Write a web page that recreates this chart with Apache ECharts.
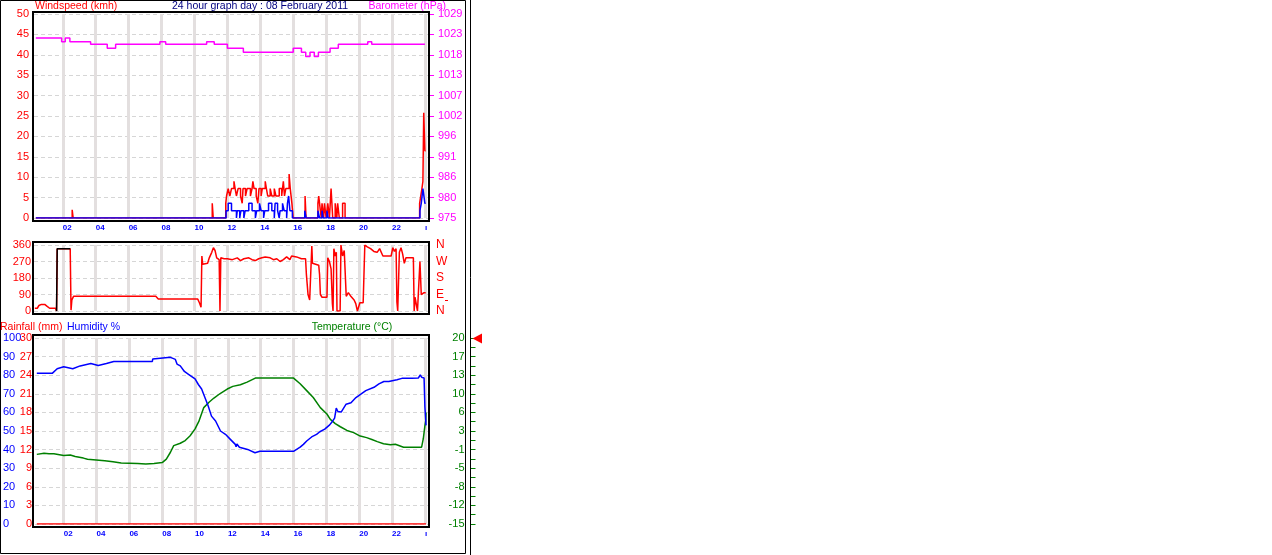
<!DOCTYPE html>
<html><head><meta charset="utf-8">
<script src="https://cdn.jsdelivr.net/npm/echarts@6/dist/echarts.min.js"></script>
<style>html,body{margin:0;padding:0;background:#fff}#c{width:1272px;height:555px}</style>
</head><body><div id="c"></div>
<script>
// ---------- axis ticks / labels ----------
const hourTicks = [2,4,6,8,10,12,14,16,18,20,22,24];
const hourLabels = ['02','04','06','08','10','12','14','16','18','20','22','ı'];
const baroTickLabels = ['975','980','986','991','996','1002','1007','1013','1018','1023','1029'];
const baroRange = [975.4, 1029.2];
const compassTicks = [0,90,180,270,360];
const compassLabels = ['N','E','S','W','N'];
const tempTickLabels = ['-15','-12','-8','-5','-1','3','6','10','13','17','20'];
const tempRange = [-15, 20];

// ---------- wind speed (km/h) ----------
const gustTime = [0.36,2.57,2.63,11.08,11.14,11.9,11.95,12.05,12.15,12.25,12.4,12.47,12.55,12.65,12.8,12.9,12.95,13.1,13.2,13.4,13.5,13.55,13.62,13.75,13.85,13.92,14.05,14.12,14.3,14.37,14.45,14.6,14.7,14.85,14.95,15.15,15.3,15.4,15.47,15.55,15.75,15.82,15.92,16.0,16.72,16.78,17.5,17.55,17.6,17.7,17.75,17.85,17.9,18.0,18.1,18.2,18.3,18.35,18.4,18.55,18.65,18.7,18.8,19.0,19.15,23.68,23.75,23.82,23.88,23.93,24.0,24.05];
const gustKmh  = [0,2,0,3.6,0,3.6,5.4,7.2,5.4,7.2,9.0,7.2,5.4,7.2,5.4,3.6,7.2,5.4,7.2,5.4,7.2,9.0,7.2,5.4,3.6,7.2,5.4,7.2,9.0,7.2,5.4,7.2,5.4,7.2,5.4,7.2,5.4,9.0,5.4,7.2,10.8,7.2,3.6,0,5.4,0,3.6,5.4,3.6,0,3.6,0,3.6,0,3.6,0,7.2,3.6,0,3.6,0,3.6,0,3.6,0,3.6,5.4,7.2,9.0,25.8,16.5,16.5];
const avgTime = [0.36,11.92,12.05,12.25,12.55,12.6,12.75,12.82,13.0,13.08,13.3,13.5,13.7,13.78,13.95,14.05,14.2,14.27,14.5,14.7,14.85,14.9,15.05,15.15,15.2,15.35,15.45,15.6,15.65,15.72,15.8,15.95,16.7,16.78,17.5,17.6,17.75,17.82,18.05,18.12,23.7,23.78,23.88,24.0,24.05];
const avgKmh  = [0,1.8,3.6,1.8,0,1.8,0,1.8,0,1.8,3.6,1.8,0,1.8,3.6,1.8,0,1.8,3.6,1.8,0,3.6,1.8,0,1.8,3.6,1.8,0,3.6,5.4,1.8,0,1.8,0,1.8,0,1.8,0,1.8,0,1.8,3.6,7.2,3.6,3.6];

// ---------- barometer (hPa) ----------
const baroTime = [0.36,1.93,2.15,2.43,3.69,4.7,5.21,7.9,8.25,10.74,11.2,12.0,12.97,16.0,16.5,16.76,17.02,17.28,17.53,18.24,18.74,20.53,20.77,24.0];
const baroHpa  = [1022.9,1021.9,1022.9,1021.9,1021.2,1020.15,1021.2,1021.9,1021.2,1021.9,1021.2,1020.15,1019.1,1020.15,1019.1,1018.0,1019.1,1018.0,1019.1,1020.15,1021.2,1021.9,1021.2,1021.2];

// ---------- wind direction (deg) ----------
const dirTime = [0.3,0.45,0.55,0.7,0.9,1.05,1.2,1.55,1.62,1.66,2.45,2.5,2.55,2.65,7.65,7.8,10.2,10.3,10.4,10.45,10.5,10.8,10.9,11.05,11.15,11.25,11.35,11.5,11.55,11.6,11.8,12.0,12.3,12.6,12.8,13.0,13.3,13.5,13.7,13.9,14.1,14.3,14.6,14.8,15.0,15.2,15.3,15.4,15.6,15.8,15.9,16.2,16.5,16.75,16.8,16.9,17.0,17.1,17.13,17.17,17.55,17.6,17.65,17.75,18.05,18.1,18.2,18.3,18.38,18.42,18.47,18.55,18.62,18.66,18.85,18.9,19.0,19.1,19.22,19.35,19.5,19.7,19.8,19.9,20.05,20.25,20.35,20.5,20.7,20.9,21.1,21.25,21.45,21.95,22.05,22.15,22.25,22.3,22.35,22.45,22.55,22.65,22.75,22.85,23.3,23.35,23.4,23.5,23.55,23.65,23.7,23.78,23.85,23.95,24.05];
const dirDeg  = [15,15,30,36,36,25,15,15,0,340,340,5,60,80,80,65,65,45,20,300,255,260,290,320,345,330,290,280,0,290,285,285,280,290,275,285,290,280,275,285,290,295,290,280,285,270,260,280,295,280,300,295,285,285,200,90,60,60,355,260,250,200,90,75,75,290,270,230,40,0,340,300,320,0,0,360,300,330,80,100,80,60,40,0,45,45,360,350,340,325,320,340,300,300,345,325,340,50,0,320,345,310,260,290,290,0,75,75,0,0,270,90,80,100,100];
const dirAvgTime = [1.62,1.66,2.45];
const dirAvgDeg  = [0,340,340];

// ---------- humidity (%), temperature (°C), rainfall (mm) ----------
const humTime = [0.36,1.3,1.32,1.6,1.65,2.0,2.55,2.6,3.0,3.65,4.1,4.6,5.05,7.4,7.42,8.5,8.8,8.9,9.1,9.35,9.6,10.0,10.2,10.4,10.6,10.8,11.0,11.25,11.55,11.85,12.15,12.45,12.5,12.55,12.7,13.2,13.65,13.95,16.0,16.1,16.4,16.6,16.8,16.9,17.1,17.4,17.6,17.9,18.2,18.35,18.5,18.6,18.7,18.9,19.05,19.2,19.5,19.8,20.1,20.4,20.9,21.2,21.5,21.8,21.9,22.3,22.6,23.2,23.6,23.72,23.8,23.95,24.0,24.07];
const humPct  = [81,81,82,83.5,82.5,84.5,83.5,84.5,85,86.3,85.2,86.3,87.4,87.4,88.7,89.6,88.5,86,85,82,80.5,78,75,72.6,68,63.4,58,55.4,50,48.2,45.5,42.8,41.5,43,41.3,40.1,38.3,39.1,39.1,40.1,41.3,42.8,44.6,45.5,46.8,48.2,49.6,51,53.3,55,56.9,62.3,60.5,60.2,62.3,64.4,65.2,68,69.8,71.7,73.5,75.3,76.6,76.6,77.6,77.6,78.3,78.3,78.5,80.2,78.9,78.5,63,53];
const tempTime = [0.36,0.8,1.1,1.4,2.0,2.4,2.7,3.2,3.45,4.5,5.0,5.5,6.5,7.0,7.5,8.0,8.25,8.5,8.7,9.1,9.4,9.7,10.0,10.23,10.53,10.85,11.15,11.55,11.96,12.3,12.76,13.17,13.67,16.0,16.4,16.8,17.2,17.63,18.03,18.24,18.54,18.85,19.25,19.66,20.06,20.45,20.77,21.1,21.48,21.9,22.2,22.7,23.8,23.9,24.0,24.05,24.07];
const tempC  = [-1.9,-1.7,-1.8,-1.8,-2.1,-2.0,-2.3,-2.6,-2.8,-3.1,-3.3,-3.5,-3.6,-3.7,-3.6,-3.45,-2.8,-1.5,-0.25,0.2,0.7,1.6,2.9,4.3,6.9,7.9,8.7,9.6,10.4,10.9,11.2,11.7,12.45,12.45,11.4,10.1,8.8,6.9,5.7,4.7,3.9,3.3,2.6,2.2,1.55,1.25,0.9,0.5,0.1,-0.1,0.0,-0.55,-0.55,1.0,3.45,4.4,6.0];
const rainTime = [0.36,24.07];
const rainMm   = [0,0];

// ---------- build ----------
const zip = (a, b) => a.map((t, i) => [t, b[i]]);
const FONT = '"Liberation Sans", Arial, sans-serif';
const RED = '#ff0000', BLUE = '#0000ff', MAG = '#ff00ff', GREEN = '#008000';
const baroStep = (baroRange[1] - baroRange[0]) / (baroTickLabels.length - 1);
const baroTicks = baroTickLabels.map((_, i) => baroRange[0] + i * baroStep);
const tempStep = (tempRange[1] - tempRange[0]) / (tempTickLabels.length - 1);
const tempTicks = tempTickLabels.map((_, i) => tempRange[0] + i * tempStep);
const tempMinorTicks = [];
for (let i = 0; i < tempTicks.length * 2 - 1; i++) tempMinorTicks.push(tempRange[0] + i * tempStep / 2);

const grids = [
  {left: 34, top: 14, width: 395, height: 204},
  {left: 34, top: 245, width: 395, height: 66},
  {left: 34, top: 338, width: 395, height: 186}
];

function xAx(gi, showLabel) {
  return {
    type: 'value', gridIndex: gi, min: 0.25, max: 24.25,
    axisLine: {show: false}, axisTick: {show: false, customValues: hourTicks},
    axisLabel: {show: showLabel, customValues: hourTicks, color: BLUE, fontFamily: FONT, fontSize: 8, fontWeight: 'bold',
      align: 'left', margin: 6, formatter: v => hourLabels[hourTicks.indexOf(v)] || ''},
    splitLine: {show: true, lineStyle: {color: '#e3dfdf', width: 3}}
  };
}
const dashed = {show: true, lineStyle: {color: '#d6d6d6', type: [4, 3], width: 1}};
const TFONT = '10.5px ' + FONT;

const option = {
  animation: false,
  backgroundColor: '#ffffff',
  grid: grids,
  xAxis: [xAx(0, true), xAx(1, false), xAx(2, true)],
  yAxis: [
    {type: 'value', gridIndex: 0, min: 0, max: 50, interval: 5, position: 'left',
     axisLine: {show: false}, axisTick: {show: false},
     axisLabel: {color: RED, fontFamily: FONT, fontSize: 11, margin: 5}, splitLine: dashed},
    {type: 'value', gridIndex: 0, min: baroRange[0], max: baroRange[1], position: 'right',
     axisLine: {show: false},
     axisTick: {show: true, customValues: baroTicks, length: 5, lineStyle: {color: MAG}},
     axisLabel: {customValues: baroTicks, color: MAG, fontFamily: FONT, fontSize: 11, margin: 9,
       formatter: v => baroTickLabels[Math.round((v - baroRange[0]) / baroStep)]},
     splitLine: {show: false}},
    {type: 'value', gridIndex: 1, min: 0, max: 360, interval: 90, position: 'left',
     axisLine: {show: false}, axisTick: {show: false},
     axisLabel: {color: RED, fontFamily: FONT, fontSize: 11, margin: 3}, splitLine: dashed},
    {type: 'value', gridIndex: 1, min: 0, max: 360, position: 'right',
     axisLine: {show: false}, axisTick: {show: false, customValues: compassTicks},
     axisLabel: {customValues: compassTicks, color: RED, fontFamily: FONT, fontSize: 12, margin: 7,
       formatter: v => compassLabels[compassTicks.indexOf(v)]},
     splitLine: {show: false}},
    {type: 'value', gridIndex: 2, min: 0, max: 100, interval: 10, position: 'left',
     axisLine: {show: false}, axisTick: {show: false},
     axisLabel: {color: BLUE, fontFamily: FONT, fontSize: 11, margin: 32, align: 'left'}, splitLine: dashed},
    {type: 'value', gridIndex: 2, min: 0, max: 30, interval: 3, position: 'left',
     axisLine: {show: false}, axisTick: {show: false},
     axisLabel: {color: RED, fontFamily: FONT, fontSize: 11, margin: 3}, splitLine: {show: false}},
    {type: 'value', gridIndex: 2, min: tempRange[0], max: tempRange[1], position: 'right', offset: 41.5,
     axisLine: {show: false},
     axisTick: {show: true, inside: false, customValues: tempMinorTicks, length: 5, lineStyle: {color: GREEN}},
     axisLabel: {inside: true, customValues: tempTicks, color: GREEN, fontFamily: FONT, fontSize: 11, margin: 6,
       formatter: v => tempTickLabels[Math.round((v - tempRange[0]) / tempStep)]},
     splitLine: {show: false}}
  ],
  series: [
    {name: 'Gust', type: 'line', xAxisIndex: 0, yAxisIndex: 0, step: 'end', data: zip(gustTime, gustKmh),
     symbol: 'none', lineStyle: {color: RED, width: 1.5}, silent: true},
    {name: 'Wind', type: 'line', xAxisIndex: 0, yAxisIndex: 0, step: 'end', data: zip(avgTime, avgKmh),
     symbol: 'none', lineStyle: {color: BLUE, width: 1.5}, silent: true},
    {name: 'Barometer', type: 'line', xAxisIndex: 0, yAxisIndex: 1, step: 'end', data: zip(baroTime, baroHpa),
     symbol: 'none', lineStyle: {color: MAG, width: 1.5}, silent: true},
    {name: 'DirAvg', type: 'line', xAxisIndex: 1, yAxisIndex: 2, data: zip(dirAvgTime, dirAvgDeg),
     symbol: 'none', lineStyle: {color: '#000', width: 1.5}, silent: true, z: 3},
    {name: 'Direction', type: 'line', xAxisIndex: 1, yAxisIndex: 2, data: zip(dirTime, dirDeg),
     symbol: 'none', lineStyle: {color: RED, width: 1.5}, silent: true, z: 2},
    {name: 'Rain', type: 'line', xAxisIndex: 2, yAxisIndex: 5, data: zip(rainTime, rainMm),
     symbol: 'none', lineStyle: {color: RED, width: 1.5}, silent: true},
    {name: 'Temperature', type: 'line', xAxisIndex: 2, yAxisIndex: 6, data: zip(tempTime, tempC),
     symbol: 'none', lineStyle: {color: GREEN, width: 1.5}, silent: true},
    {name: 'Humidity', type: 'line', xAxisIndex: 2, yAxisIndex: 4, data: zip(humTime, humPct),
     symbol: 'none', lineStyle: {color: BLUE, width: 1.5}, silent: true}
  ],
  graphic: [
    {type: 'rect', z: 100, silent: true, shape: {x: 0.5, y: 0.5, width: 465, height: 553}, style: {fill: 'none', stroke: '#000', lineWidth: 1}},
    {type: 'line', z: 100, silent: true, shape: {x1: 470.5, y1: 0, x2: 470.5, y2: 555}, style: {stroke: '#000', lineWidth: 1}},
    {type: 'rect', z: 100, silent: true, shape: {x: 33, y: 12, width: 396, height: 209}, style: {fill: 'none', stroke: '#000', lineWidth: 2}},
    {type: 'rect', z: 100, silent: true, shape: {x: 33, y: 242, width: 396, height: 72}, style: {fill: 'none', stroke: '#000', lineWidth: 2}},
    {type: 'rect', z: 100, silent: true, shape: {x: 33, y: 335, width: 396, height: 192}, style: {fill: 'none', stroke: '#000', lineWidth: 2}},
    {type: 'polygon', z: 100, silent: true, shape: {points: [[472.5, 338.5], [482, 333.5], [482, 343.5]]}, style: {fill: RED}},
    {type: 'line', z: 100, silent: true, shape: {x1: 445, y1: 300.5, x2: 448, y2: 300.5}, style: {stroke: RED, lineWidth: 1}},
    {type: 'text', z: 100, silent: true, style: {text: 'Windspeed (kmh)', x: 35, y: 6, fill: RED, font: TFONT, textAlign: 'left', textVerticalAlign: 'middle'}},
    {type: 'text', z: 100, silent: true, style: {text: '24 hour graph day : 08 February 2011', x: 260, y: 6, fill: '#000080', font: TFONT, textAlign: 'center', textVerticalAlign: 'middle'}},
    {type: 'text', z: 100, silent: true, style: {text: 'Barometer (hPa)', x: 446, y: 6, fill: MAG, font: TFONT, textAlign: 'right', textVerticalAlign: 'middle'}},
    {type: 'text', z: 100, silent: true, style: {text: 'Rainfall (mm)', x: 0, y: 327, fill: RED, font: TFONT, textAlign: 'left', textVerticalAlign: 'middle'}},
    {type: 'text', z: 100, silent: true, style: {text: 'Humidity %', x: 67, y: 327, fill: BLUE, font: TFONT, textAlign: 'left', textVerticalAlign: 'middle'}},
    {type: 'text', z: 100, silent: true, style: {text: 'Temperature (°C)', x: 352, y: 327, fill: GREEN, font: TFONT, textAlign: 'center', textVerticalAlign: 'middle'}}
  ]
};
echarts.init(document.getElementById('c'), null, {renderer: 'canvas'}).setOption(option);
</script>
</body></html>
